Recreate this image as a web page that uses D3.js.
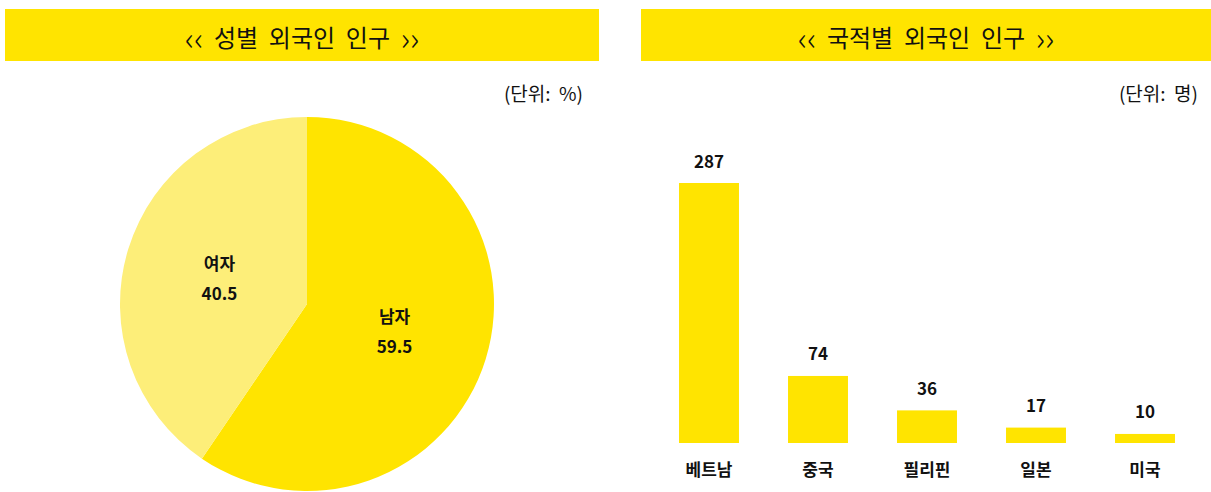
<!DOCTYPE html>
<html>
<head>
<meta charset="utf-8">
<script src="https://cdn.jsdelivr.net/npm/d3@7"></script>
<style>
  html, body { margin: 0; padding: 0; background: #fff; }
  svg { display: block; font-family: "Noto Sans CJK KR", "Noto Sans", sans-serif; }
</style>
</head>
<body>
<div id="chart"></div>
<script>
// Gender split (percent)
const genderLabels = ['남자', '여자'];
const genderValues = [59.5, 40.5];

// Foreign residents by nationality (persons)
const nations = ['베트남', '중국', '필리핀', '일본', '미국'];
const nationCounts = [287, 74, 36, 17, 10];

const titles = ['성별  외국인  인구', '국적별  외국인  인구'];
const units = ['(단위:  %)', '(단위:  명)'];

(function(){
  const W = 1211, H = 492;
  const svg = d3.select('#chart').append('svg').attr('width', W).attr('height', H);

  const yellow = '#FFE400';
  const paleYellow = '#FDEE79';

  // Header bands
  const headers = [{x0: 5, x1: 599, cx: 302}, {x0: 641, x1: 1215, cx: 926}];
  headers.forEach((h, i) => {
    svg.append('rect').attr('x', h.x0).attr('y', 9).attr('width', h.x1 - h.x0).attr('height', 52).attr('fill', yellow);
    const t = svg.append('text').attr('x', h.cx).attr('y', 36)
      .attr('text-anchor', 'middle').attr('dominant-baseline', 'central')
      .attr('font-size', 24).attr('fill', '#111')
      .style('white-space', 'pre');
    t.append('tspan').attr('font-size', 32).attr('font-weight', 300).text('‹‹');
    t.append('tspan').text('  ' + titles[i] + '  ');
    t.append('tspan').attr('font-size', 32).attr('font-weight', 300).text('››');
  });
  svg.append('text').attr('x', 583).attr('y', 92).attr('text-anchor', 'end').attr('dominant-baseline', 'central')
    .attr('font-size', 19).attr('fill', '#111').style('white-space', 'pre').text(units[0]);
  svg.append('text').attr('x', 1198).attr('y', 92).attr('text-anchor', 'end').attr('dominant-baseline', 'central')
    .attr('font-size', 19).attr('fill', '#111').style('white-space', 'pre').text(units[1]);

  // Pie chart
  const cx = 307, cy = 304, r = 187;
  const pieData = d3.pie().sort(null)(genderValues);
  const arc = d3.arc().innerRadius(0).outerRadius(r);
  const colors = [yellow, paleYellow];
  const pieG = svg.append('g').attr('transform', `translate(${cx},${cy})`);
  pieG.selectAll('path').data(pieData).join('path')
    .attr('d', arc).attr('fill', (d, i) => colors[i]);

  const labelArc = d3.arc().innerRadius(r * 0.49).outerRadius(r * 0.49);
  pieData.forEach((d, i) => {
    const [lx, ly] = labelArc.centroid(d);
    const t = pieG.append('text').attr('text-anchor', 'middle').attr('font-size', 17)
      .attr('font-weight', 'bold').attr('fill', '#111');
    t.append('tspan').attr('x', lx).attr('y', ly - 15).attr('dominant-baseline', 'central').text(genderLabels[i]);
    t.append('tspan').attr('x', lx).attr('y', ly + 15).attr('dominant-baseline', 'central').text(genderValues[i]);
  });

  // Bar chart
  const baseY = 443;
  const x = d3.scaleBand().domain(nations).range([654.5, 1199.5]).paddingInner(0.45).paddingOuter(0.225);
  const y = d3.scaleLinear().domain([0, 287]).range([baseY, 183]);

  const barG = svg.append('g');
  barG.selectAll('rect').data(nations).join('rect')
    .attr('x', d => x(d)).attr('width', x.bandwidth())
    .attr('y', (d, i) => y(nationCounts[i]))
    .attr('height', (d, i) => baseY - y(nationCounts[i]))
    .attr('fill', yellow);

  barG.selectAll('text.val').data(nations).join('text').attr('class', 'val')
    .attr('x', d => x(d) + x.bandwidth() / 2)
    .attr('y', (d, i) => y(nationCounts[i]) - 23)
    .attr('text-anchor', 'middle').attr('dominant-baseline', 'central')
    .attr('font-size', 17).attr('font-weight', 'bold').attr('fill', '#111')
    .text((d, i) => nationCounts[i]);

  barG.selectAll('text.cat').data(nations).join('text').attr('class', 'cat')
    .attr('x', d => x(d) + x.bandwidth() / 2)
    .attr('y', 468)
    .attr('text-anchor', 'middle').attr('dominant-baseline', 'central')
    .attr('font-size', 17).attr('font-weight', 'bold').attr('fill', '#111')
    .text(d => d);
})();
</script>
</body>
</html>
